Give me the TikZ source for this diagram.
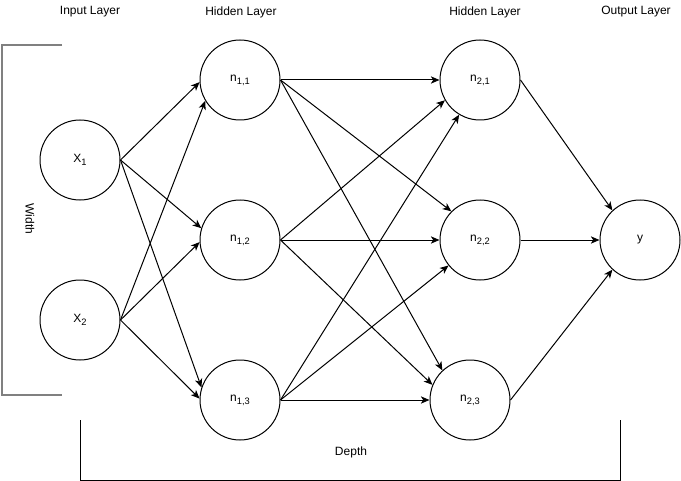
\documentclass[tikz,border=0pt]{standalone}
\usepackage{fontspec}
\setmainfont{Liberation Sans}
\usetikzlibrary{arrows.meta}
\newcommand{\mysub}[1]{\raisebox{-2.3pt}{\fontsize{7pt}{8pt}\selectfont #1}}
\begin{document}
\begin{tikzpicture}[x=0.75pt,y=-0.75pt,
  neuron/.style={draw,circle,line width=0.75pt,minimum size=60pt,inner sep=0pt,font=\fontsize{9pt}{11pt}\selectfont},
  lbl/.style={inner sep=0pt,font=\fontsize{9pt}{11pt}\selectfont},
  conn/.style={line width=0.75pt,-{Stealth[length=6.5pt,width=5.5pt,inset=1.8pt]}},
  brk/.style={line width=0.75pt},
  gbrk/.style={line width=1.5pt,color=gray}]
\useasboundingbox (0,0) rectangle (681,481);
% labels
\node[lbl] (lin) at (90,12) {Input Layer};
\node[lbl] (lh1) at (241,12) {Hidden Layer};
\node[lbl] (lh2) at (485,12) {Hidden Layer};
\node[lbl] (lout) at (636,12) {Output Layer};
\node[lbl,rotate=-90] (lw) at (30,219) {Width};
\node[lbl] (ld) at (351,452) {Depth};
% neurons
\node[neuron] (x1) at (80,160) {X\mysub{1}};
\node[neuron] (x2) at (80,320) {X\mysub{2}};
\node[neuron] (n11) at (240,80) {n\mysub{1,1}};
\node[neuron] (n12) at (240,240) {n\mysub{1,2}};
\node[neuron] (n13) at (240,400) {n\mysub{1,3}};
\node[neuron] (n21) at (480,80) {n\mysub{2,1}};
\node[neuron] (n22) at (480,240) {n\mysub{2,2}};
\node[neuron] (n23) at (470,400) {n\mysub{2,3}};
\node[neuron] (y) at (640,240) {y};
% input -> hidden 1
\draw[conn] (x1.east) -- (n11.183);
\draw[conn] (x2.east) -- (n11.211);
\draw[conn] (x1.east) -- (n12.163);
\draw[conn] (x2.east) -- (n12.183);
\draw[conn] (x1.east) -- (n13.162);
\draw[conn] (x2.east) -- (n13.178);
% hidden 1 -> hidden 2
\draw[conn] (n11.east) -- (n21.west);
\draw[conn] (n12.east) -- (n21.210);
\draw[conn] (n13.east) -- (n21.239);
\draw[conn] (n11.east) -- (n22.135);
\draw[conn] (n12.east) -- (n22.west);
\draw[conn] (n13.east) -- (n22.219);
\draw[conn] (n11.east) -- (n23.133);
\draw[conn] (n12.east) -- (n23.158);
\draw[conn] (n13.east) -- (n23.west);
% hidden 2 -> output
\draw[conn] (n21.east) -- (y.133);
\draw[conn] (n22.east) -- (y.west);
\draw[conn] (n23.east) -- (y.227);
% brackets
\coordinate (wt) at (62,45);
\coordinate (wb) at (62,395);
\draw[gbrk] (wt) -- (2,45) -- (2,395) -- (wb);
\coordinate (dl) at (80,420);
\coordinate (dr) at (620,420);
\draw[brk] (dl) -- (80,480) -- (620,480) -- (dr);
\end{tikzpicture}
\end{document}
